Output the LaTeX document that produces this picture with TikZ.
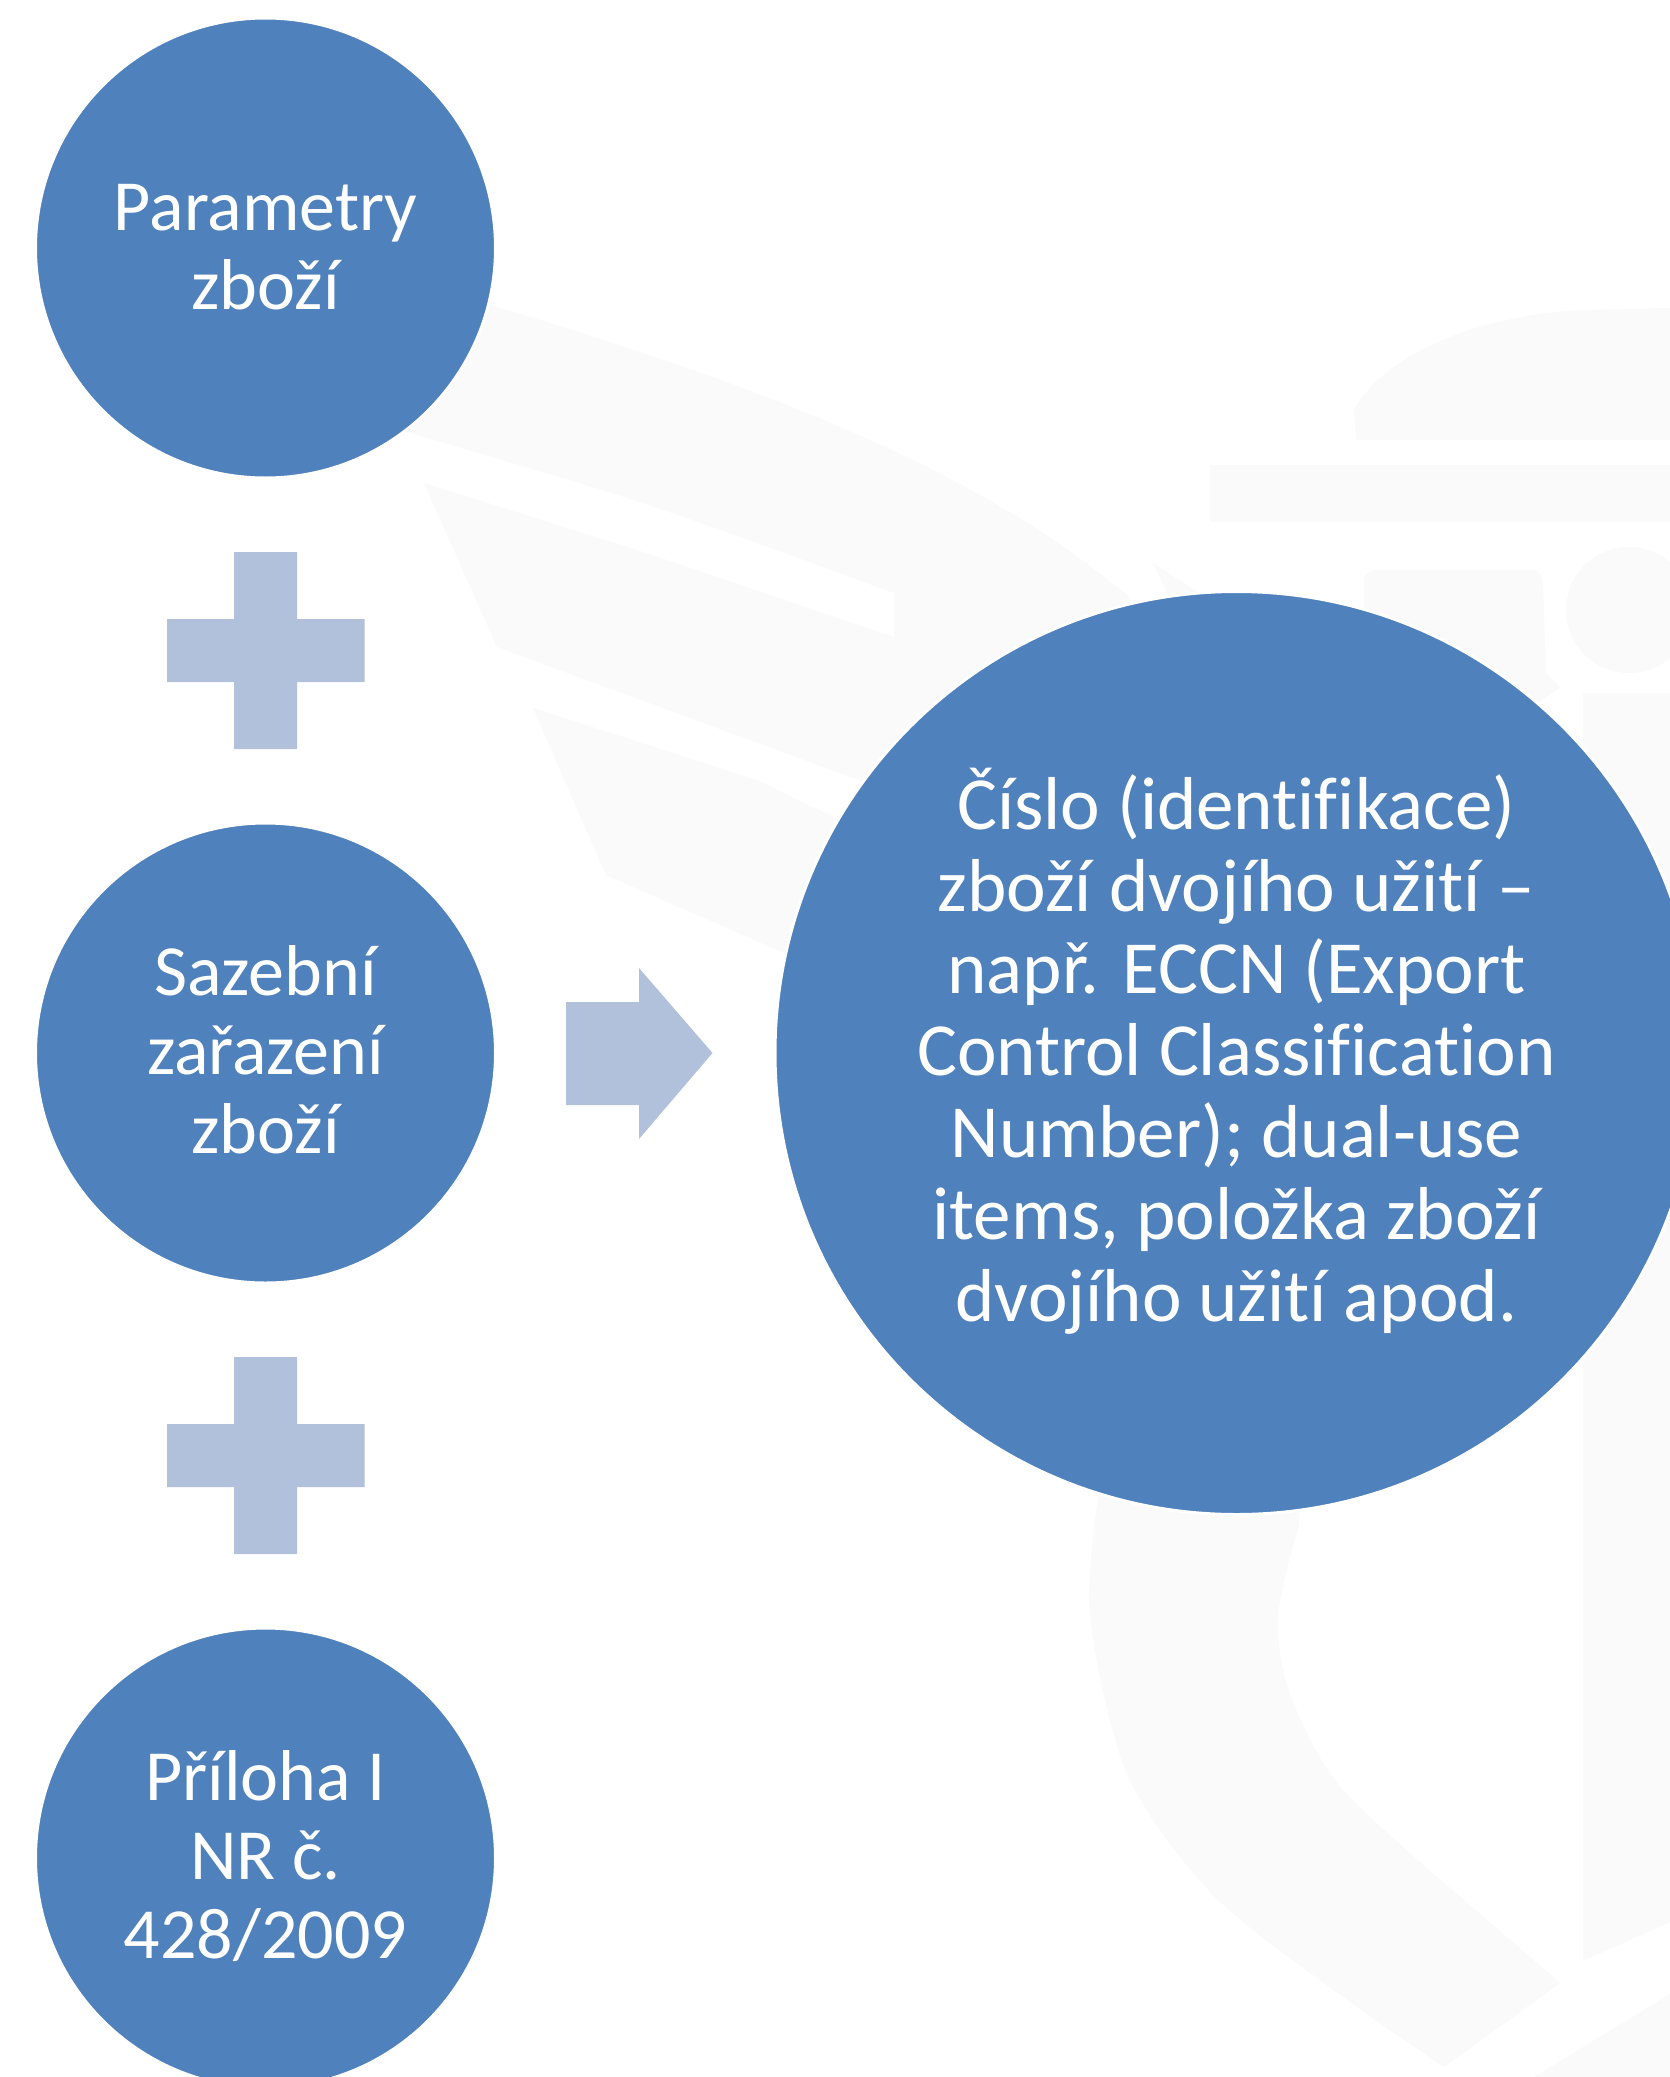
\documentclass[tikz,border=0pt]{standalone}
\usepackage{fontspec}
\setmainfont{Carlito}[Ligatures={NoCommon}]
\definecolor{blueA}{HTML}{4F81BD}
\definecolor{paleA}{HTML}{B2C1DB}
\definecolor{markA}{HTML}{FAFAFA}
\newcommand{\disctext}[2]{\raisebox{0pt}[\dimexpr\height+#1pt\relax][\depth]{\begin{tabular}{@{}c@{}}#2\end{tabular}}}
\tikzset{
  disc/.style={circle,fill=blueA,draw=white,line width=3pt,inner sep=0pt,outer sep=0pt,text=white},
  smalldisc/.style={disc,minimum size=460pt,font=\fontsize{72}{79}\selectfont},
  largedisc/.style={disc,minimum size=923pt,font=\fontsize{75}{82}\selectfont},
  paleshape/.style={fill=paleA},
  watermark/.style={fill=markA}
}
\begin{document}
\begin{tikzpicture}[x=1pt,y=-1pt]
\useasboundingbox (0,0) rectangle (1670,2077);
\fill[white] (0,0) rectangle (1670,2077);
% faint watermark
\fill[watermark] plot[smooth] coordinates {(400,430) (643,503) (894,593)} -- (894,637)
  -- plot[smooth] coordinates {(643,552) (424,483)} -- (497,647) -- (886,790) -- (1150,700) -- (1129,597)
  .. controls (980,470) and (760,385) .. (490,305) -- (330,300) -- cycle;
\fill[watermark] (533,708) -- (606,875) -- (800,960) -- (900,850) -- (760,781) -- cycle;
\fill[watermark] (1153,563) -- (1175,610) -- (1225,610) -- cycle;
\fill[watermark] (1670,440) -- (1356,440) -- (1354,410) .. controls (1380,360) and (1470,315) .. (1583,310) -- (1670,308) -- cycle;
\fill[watermark] (1210,465) rectangle (1670,522);
\fill[watermark] (1364,580) .. controls (1364,572) and (1370,570) .. (1380,570) -- (1530,570) .. controls (1540,570) and (1542,575) .. (1543,585) -- (1546,670) .. controls (1548,680) and (1556,680) .. (1560,688) -- (1450,760) -- (1364,650) -- cycle;
\fill[watermark] (1629,610) circle[x radius=63pt,y radius=63pt];
\fill[watermark] (1583,693) -- (1670,693) -- (1670,1922) -- (1583,1961) -- cycle;
\fill[watermark] (1098,1490) -- plot[smooth] coordinates {(1098,1499) (1090,1616) (1128,1776) (1214,1896) (1342,1996) (1444,2067)}
  -- (1560,1983) -- plot[smooth] coordinates {(1470,1905) (1342,1789) (1290,1694) (1278,1616) (1299,1525)} -- (1300,1490) -- cycle;
\fill[watermark] (1534,2077) -- (1670,1994) -- (1670,2077) -- cycle;
% plus signs
\fill[paleshape] (234,552) -- (297,552) -- (297,619) -- (364.5,619) -- (364.5,682) -- (297,682) -- (297,749) -- (234,749) -- (234,682) -- (167,682) -- (167,619) -- (234,619) -- cycle;
\fill[paleshape] (234,1357) -- (297,1357) -- (297,1424) -- (364.5,1424) -- (364.5,1487) -- (297,1487) -- (297,1554) -- (234,1554) -- (234,1487) -- (167,1487) -- (167,1424) -- (234,1424) -- cycle;
% arrow
\fill[paleshape] (566,1002) -- (639,1002) -- (639,968) -- (712.5,1053) -- (639,1139) -- (639,1105) -- (566,1105) -- cycle;
% circles
\node[smalldisc] (params) at (265.5,248) {\disctext{12}{Parametry\\zboží}};
\node[smalldisc] (tariff) at (265.5,1053) {\disctext{12}{Sazební\\zařazení\\zboží}};
\node[smalldisc] (annex) at (265.5,1858) {\disctext{12}{Příloha I\\NR č.\\428/2009}};
\node[largedisc] (number) at (1236.5,1053) {\disctext{9}{Číslo (identifikace)\\zboží dvojího užití –\\např. ECCN (Export\\Control Classification\\Number); dual-use\\items, položka zboží\\dvojího užití apod.}};
\end{tikzpicture}
\end{document}
